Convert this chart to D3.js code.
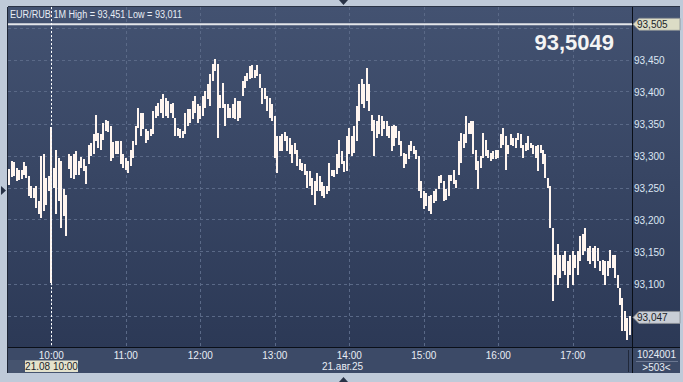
<!DOCTYPE html>
<html><head><meta charset="utf-8">
<script src="https://cdn.jsdelivr.net/npm/d3@7"></script>
<style>html,body{margin:0;padding:0;background:#bfcad9;overflow:hidden}svg{display:block}</style>
</head><body><svg id="c" width="683" height="382"></svg>
<script>
// ---- data ----
const title = "EUR/RUB 1M High = 93,451 Low = 93,011";
const lastPrice = "93,5049";
const startTime = "2025-08-21T09:26:00";   // first 2-minute bar
const barMinutes = 2;
const highs = [
93.279,93.291,93.290,93.281,93.278,93.278,93.290,93.283,93.268,93.252,
93.250,93.252,93.229,93.299,93.302,93.265,93.268,93.344,93.281,93.309,
93.296,93.291,93.247,93.239,93.303,93.299,93.302,93.307,93.291,93.297,
93.294,93.283,93.317,93.320,93.333,93.364,93.335,93.333,93.351,93.356,
93.354,93.346,93.321,93.322,93.323,93.323,93.302,93.296,93.291,93.309,
93.322,93.346,93.374,93.367,93.367,93.341,93.338,93.341,93.369,93.377,
93.382,93.388,93.396,
93.390,93.385,93.380,93.382,93.359,93.343,93.341,93.339,93.367,93.372,
93.372,93.385,93.393,93.380,93.377,93.393,93.401,93.411,93.427,93.443,
93.451,93.443,93.395,93.414,93.380,93.380,93.375,93.380,93.390,93.385,
93.385,93.416,93.424,93.429,93.440,93.441,93.434,93.442,93.427,93.406,
93.406,93.393,93.390,93.380,93.362,93.330,93.330,93.333,93.336,93.330,
93.328,93.317,93.320,93.309,93.294,93.289,93.286,93.276,93.276,93.265,
93.260,93.273,93.268,
93.258,93.252,93.252,93.289,93.278,93.278,93.302,93.325,93.307,93.292,
93.330,93.343,93.330,93.346,93.377,93.411,93.419,93.411,93.437,93.411,
93.364,93.356,93.354,93.364,93.362,93.354,93.354,93.346,93.346,93.348,
93.346,93.338,93.322,93.304,93.302,93.317,93.322,93.315,93.309,93.299,
93.260,93.244,93.242,93.236,93.239,93.244,93.247,93.268,93.270,93.260,
93.247,93.270,93.270,93.278,93.262,93.322,93.335,93.333,93.361,93.351,
93.354,93.354,93.309,
93.291,93.299,93.335,93.325,93.309,93.304,93.307,93.309,93.309,93.333,
93.343,93.330,93.317,93.333,93.328,93.328,93.335,93.333,93.317,93.320,
93.330,93.320,93.317,93.315,93.317,93.317,93.309,93.302,93.265,93.252,
93.187,93.145,93.161,93.145,93.145,93.151,93.135,93.145,93.151,93.145,
93.151,93.174,93.177,93.187,93.156,93.158,93.156,93.158,93.156,93.135,
93.137,93.135,93.135,93.153,93.145,93.145,93.114,93.093,93.078,93.057,
93.046,93.049];
const lows = [
93.254,93.266,93.268,93.260,93.261,93.264,93.270,93.265,93.237,93.234,
93.233,93.218,93.208,93.202,93.213,93.223,93.244,93.101,93.250,93.208,
93.229,93.187,93.206,93.174,93.279,93.265,93.263,93.270,93.270,93.281,
93.276,93.255,93.286,93.299,93.302,93.322,93.312,93.309,93.325,93.338,
93.336,93.291,93.296,93.302,93.302,93.286,93.281,93.278,93.273,93.283,
93.296,93.317,93.343,93.331,93.341,93.320,93.325,93.330,93.333,93.359,
93.361,93.367,93.359,
93.361,93.359,93.367,93.359,93.330,93.330,93.328,93.328,93.333,93.346,
93.351,93.357,93.367,93.351,93.357,93.362,93.374,93.388,93.378,93.416,
93.432,93.328,93.375,93.375,93.346,93.359,93.359,93.359,93.357,93.354,
93.359,93.393,93.406,93.416,93.419,93.421,93.421,93.424,93.406,93.380,
93.388,93.369,93.359,93.354,93.296,93.273,93.307,93.307,93.322,93.307,
93.302,93.289,93.302,93.283,93.278,93.276,93.270,93.250,93.253,93.239,
93.223,93.244,93.244,
93.237,93.234,93.240,93.245,93.268,93.266,93.271,93.281,93.286,93.275,
93.276,93.302,93.299,93.304,93.322,93.354,93.380,93.375,93.385,93.369,
93.338,93.299,93.328,93.333,93.330,93.341,93.330,93.328,93.307,93.315,
93.328,93.317,93.299,93.281,93.286,93.294,93.307,93.302,93.294,93.244,
93.234,93.216,93.221,93.213,93.208,93.226,93.229,93.247,93.257,93.229,
93.231,93.236,93.260,93.255,93.249,93.270,93.289,93.312,93.320,93.333,
93.333,93.302,93.278,
93.247,93.281,93.296,93.299,93.296,93.291,93.294,93.294,93.296,93.312,
93.317,93.278,93.302,93.317,93.315,93.312,93.325,93.312,93.296,93.307,
93.309,93.312,93.302,93.296,93.276,93.304,93.286,93.265,93.250,93.187,
93.072,93.114,93.098,93.109,93.119,93.114,93.093,93.114,93.098,93.124,
93.114,93.135,93.145,93.151,93.135,93.130,93.135,93.124,93.135,93.119,
93.114,93.098,93.111,93.124,93.124,93.109,93.093,93.067,93.026,93.026,
93.011,93.020];
const gridTicks = [93.05,93.10,93.15,93.20,93.25,93.30,93.35,93.40,93.45,93.50];
const yLabels = [93.10,93.15,93.20,93.25,93.30,93.35,93.40,93.45];
const hourTicks = ["10:00","11:00","12:00","13:00","14:00","15:00","16:00","17:00"];
const refLine = 93.505, refLabel = "93,505";
const lastLabel = "93,047", lastValue = 93.047;
const cursorLabel = "21.08 10:00";
const dateLabel = "21.авг.25";
const volLabel = "1024001", countLabel = ">503<";

// ---- scales ----
const parse = d3.timeParse("%Y-%m-%dT%H:%M:%S");
const t10 = parse("2025-08-21T10:00:00"), t17 = parse("2025-08-21T17:00:00");
const x = d3.scaleTime().domain([t10, t17]).range([51.3, 572.8]);
const y = d3.scaleLinear().domain([93.05, 93.45]).range([315.5, 59.5]);
const t0 = parse(startTime);
const times = highs.map((_, i) => d3.timeMinute.offset(t0, i * barMinutes));
const bars = times.map((t, i) => ({t, h: highs[i], l: lows[i]}));
const fmt = v => d3.format(".3f")(v).replace(".", ",");
const hx = d => x(parse("2025-08-21T" + d + ":00"));

const L = 8, R = 632, T = 7, B = 347, PR = 680, PB = 373;
const svg = d3.select("#c");
const font = "'Liberation Sans', Arial, sans-serif";

const defs = svg.append("defs");
const g1 = defs.append("linearGradient").attr("id","bg").attr("x1",0).attr("y1",0).attr("x2",0).attr("y2",1);
g1.append("stop").attr("offset","0%").attr("stop-color","#435271");
g1.append("stop").attr("offset","100%").attr("stop-color","#2c3956");
const clip = defs.append("clipPath").attr("id","plot");
clip.append("rect").attr("x",L).attr("y",T).attr("width",R-L).attr("height",B-T);

svg.append("rect").attr("width",683).attr("height",382).attr("fill","#bfcad9");
svg.append("rect").attr("x",L).attr("y",T).attr("width",PR-L).attr("height",B-T).attr("fill","url(#bg)");
svg.append("rect").attr("x",L).attr("y",B).attr("width",PR-L).attr("height",PB-B).attr("fill","#3c4a67");
svg.append("rect").attr("x",L).attr("y",360).attr("width",68).attr("height",PB-360).attr("fill","#46546f");

// grid
const grid = svg.append("g").attr("stroke","#5a6987").attr("stroke-dasharray","3,3").attr("shape-rendering","crispEdges");
grid.selectAll("line.h").data(gridTicks).join("line")
  .attr("x1",L).attr("x2",R).attr("y1",d=>Math.round(y(d))+0.5).attr("y2",d=>Math.round(y(d))+0.5);
grid.selectAll("line.v").data(hourTicks).join("line")
  .attr("x1",d=>Math.round(hx(d))+0.5).attr("x2",d=>Math.round(hx(d))+0.5)
  .attr("y1",T).attr("y2",B);

// reference line at 93.505
svg.append("line").attr("x1",L).attr("x2",R).attr("y1",y(refLine)).attr("y2",y(refLine))
  .attr("stroke","#e4e6ea").attr("stroke-width",2);

// bars
svg.append("g").attr("clip-path","url(#plot)").attr("shape-rendering","crispEdges")
  .selectAll("rect").data(bars).join("rect")
  .attr("x",d=>x(d.t)-1).attr("width",2)
  .attr("y",d=>y(d.h)).attr("height",d=>Math.max(1,y(d.l)-y(d.h)))
  .attr("fill","#fff5ef");

// cursor line at 10:00
svg.append("line").attr("x1",Math.round(x(t10))+0.5).attr("x2",Math.round(x(t10))+0.5).attr("y1",T).attr("y2",B)
  .attr("stroke","#ffffff").attr("stroke-dasharray","2,2").attr("stroke-width",1);

// borders
const bl = svg.append("g").attr("stroke","#0a0f18").attr("shape-rendering","crispEdges");
bl.append("line").attr("x1",R+0.5).attr("x2",R+0.5).attr("y1",T).attr("y2",PB);
bl.append("line").attr("x1",L).attr("x2",PR).attr("y1",B+0.5).attr("y2",B+0.5);
bl.append("line").attr("x1",L-0.5).attr("x2",L-0.5).attr("y1",T).attr("y2",PB).attr("stroke","#1e2636");
bl.append("line").attr("x1",L).attr("x2",PR).attr("y1",T-0.5).attr("y2",T-0.5).attr("stroke","#2a3346");
svg.append("line").attr("x1",628.5).attr("x2",628.5).attr("y1",350).attr("y2",372).attr("stroke","#20283a").attr("shape-rendering","crispEdges");

// header
svg.append("text").attr("x",10).attr("y",18).attr("font-family",font).attr("font-size",10)
  .attr("textLength",172).attr("lengthAdjust","spacingAndGlyphs")
  .attr("fill","#e8edf5").text(title);
svg.append("text").attr("x",614).attr("y",50).attr("text-anchor","end").attr("font-family",font)
  .attr("font-size",22).attr("font-weight","bold").attr("fill","#f4f4f4").text(lastPrice);

// y labels
svg.append("g").selectAll("text").data(yLabels).join("text")
  .attr("x",634).attr("y",d=>y(d)+4.5).attr("font-family",font).attr("font-size",10)
  .attr("fill","#dde6f3").text(d=>fmt(d));

// price boxes
function priceBox(v, label, fill){
  const cy = y(v);
  const g = svg.append("g");
  g.append("path").attr("d",`M${R+1},${cy} L${R+7},${cy-6} L${PR},${cy-6} L${PR},${cy+6} L${R+7},${cy+6} Z`)
    .attr("fill",fill).attr("stroke","#8c8f94").attr("stroke-width",0.8);
  g.append("text").attr("x",637).attr("y",cy+4).attr("font-family",font).attr("font-size",10)
    .attr("fill","#1a1e28").text(label);
}
priceBox(refLine, refLabel, "#dcdcc6");
priceBox(lastValue, lastLabel, "#c9ced6");

// x labels
svg.append("g").selectAll("text").data(hourTicks).join("text")
  .attr("x",d=>hx(d)).attr("y",358.5).attr("text-anchor","middle")
  .attr("font-family",font).attr("font-size",10).attr("fill","#e8edf5").text(d=>d);
svg.append("rect").attr("x",25).attr("y",360.5).attr("width",53).attr("height",11.5).attr("fill","#e4e2cc");
svg.append("text").attr("x",51.5).attr("y",370).attr("text-anchor","middle").attr("font-family",font)
  .attr("font-size",10).attr("fill","#1a1e28").text(cursorLabel);
svg.append("text").attr("x",342.5).attr("y",369.5).attr("text-anchor","middle").attr("font-family",font)
  .attr("font-size",10).attr("fill","#e8edf5").text(dateLabel);
svg.append("text").attr("x",656.5).attr("y",358).attr("text-anchor","middle").attr("font-family",font)
  .attr("font-size",10).attr("fill","#e8edf5").text(volLabel);
svg.append("line").attr("x1",636).attr("x2",678).attr("y1",361.5).attr("y2",361.5).attr("stroke","#6c7892");
svg.append("text").attr("x",656.5).attr("y",370.5).attr("text-anchor","middle").attr("font-family",font)
  .attr("font-size",10).attr("fill","#e8edf5").text(countLabel);

// small markers on outer frame
svg.append("path").attr("d","M339,0 L348,0 L343.5,5 Z").attr("fill","#283246");
svg.append("path").attr("d","M339,382 L348,382 L343.5,377 Z").attr("fill","#283246");
svg.append("path").attr("d","M1,186 L1,195 L6,190.5 Z").attr("fill","#283246");
</script></body></html>
